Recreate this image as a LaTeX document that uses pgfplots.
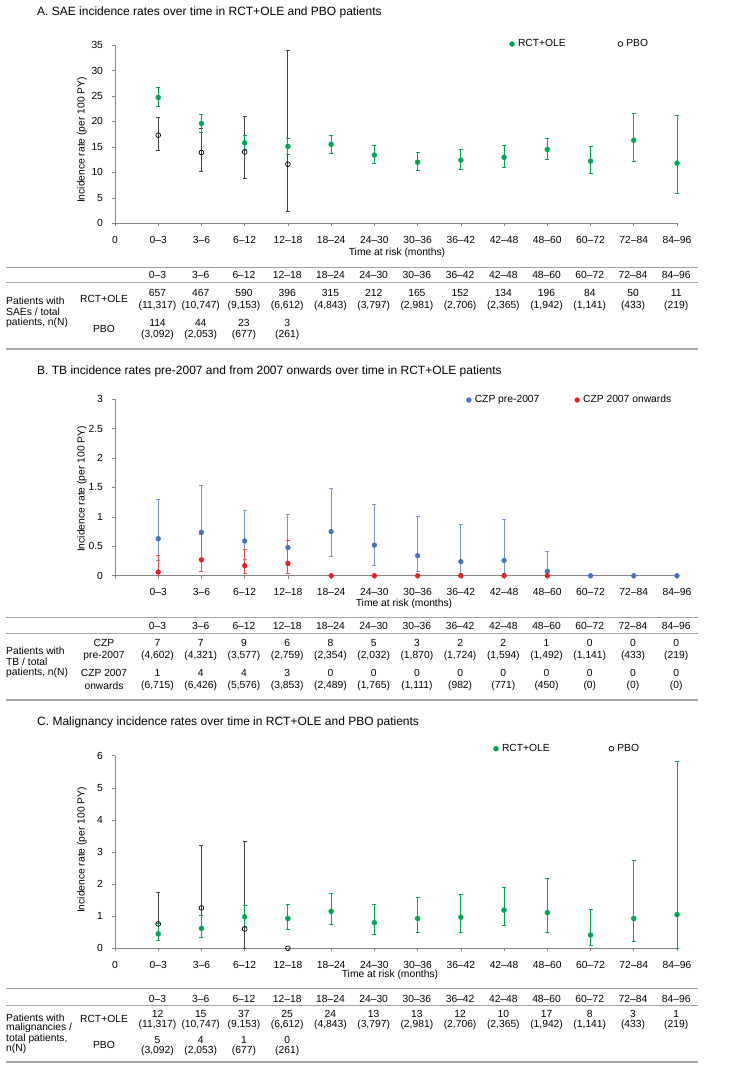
\documentclass[border=0pt]{standalone}
\usepackage{pgfplots}
\pgfplotsset{compat=1.18}
\usepackage{fontspec}
\setmainfont{Liberation Sans}
\definecolor{cgreen}{RGB}{0,166,81}
\definecolor{cblue}{RGB}{68,114,196}
\definecolor{cred}{RGB}{237,28,36}
\definecolor{axgray}{RGB}{134,134,134}
\definecolor{pbo}{RGB}{64,64,64}
\definecolor{tgray}{RGB}{165,165,165}
\newcommand{\fs}{\fontsize{10.3}{12}\selectfont}
\newcommand{\ft}{\fontsize{12}{14}\selectfont}
\newcommand{\trow}[2]{\foreach \v [count=\i] in {#2} {\node[font=\fs, inner sep=0pt] at ({(157.5+43.23*(\i-1))*1pt},{-#1*1pt}) {\v};}}
\newcommand{\prow}[2]{\foreach \v [count=\i] in {#2} {\node[font=\fs, inner sep=0pt] at ({(157.5+43.23*(\i-1))*1pt},{-#1*1pt}) {(\v)};}}
\pgfplotsset{
  panel/.style={
    scale only axis, width=562pt,
    xmin=0, xmax=13, ymin=0,
    axis x line*=bottom, axis y line*=left,
    axis line style={draw=axgray, line width=0.8pt},
    tick style={draw=axgray, line width=0.6pt},
    major tick length=3pt, tick align=outside,
    xtick={0,...,13},
    tick label style={font=\fs, text=black},
    /pgf/number format/assume math mode=true,
    yticklabel style={xshift=-5.5pt},
    xticklabel style={yshift=-6.5pt},
    error bars/y dir=both, error bars/y explicit,
    legend columns=2,
    legend style={draw=none, fill=none, font=\fs, anchor=west, inner sep=0pt, outer sep=0pt,
      nodes={inner sep=0pt},
      /tikz/every odd column/.append style={column sep=3.5pt},
      /tikz/every even column/.append style={column sep=0pt}},
    legend image code/.code={\draw[#1] plot coordinates {(0pt,0pt)};},
    clip=false,
  },
  rct/.style={only marks, mark=*, mark size=2.5pt, color=cgreen, mark options={fill=cgreen, draw=cgreen},
    error bars/error bar style={color=cgreen, draw=cgreen, line width=0.9pt},
    error bars/error mark options={rotate=90, color=cgreen, draw=cgreen, line width=0.9pt, mark size=2pt}},
  gbar/.style={draw=cgreen, line width=0.9pt, mark=-, mark size=2pt, mark options={draw=cgreen, solid}},
  pb/.style={only marks, mark=o, mark size=2.4pt, color=black, mark options={fill=white, draw=black, line width=0.7pt},
    error bars/error bar style={draw=pbo, line width=0.9pt},
    error bars/error mark options={rotate=90, draw=pbo, line width=0.9pt, mark size=2pt}},
  blu/.style={only marks, mark=*, mark size=2.4pt, color=cblue, mark options={fill=cblue, draw=cblue},
    error bars/error bar style={draw=cblue!75, line width=0.9pt},
    error bars/error mark options={rotate=90, draw=cblue!75, line width=0.9pt, mark size=2pt}},
  rd/.style={only marks, mark=*, mark size=2.4pt, color=cred, mark options={fill=cred, draw=cred},
    error bars/error bar style={draw=cred!80, line width=0.9pt},
    error bars/error mark options={rotate=90, draw=cred!80, line width=0.9pt, mark size=2pt}},
}
\begin{document}
\begin{tikzpicture}
\path[use as bounding box] (0pt,0pt) rectangle (751pt,-1073pt);
%================ Panel A
\node[font=\ft, anchor=west, inner sep=0pt] at (37pt,-12.3pt) {A. SAE incidence rates over time in RCT+OLE and PBO patients};
\begin{axis}[panel, at={(115pt,-223.3pt)}, anchor=south west, height=178.3pt, ymax=35,
  ytick={0,5,...,35}, xticklabels={0,0--3,3--6,6--12,12--18,18--24,24--30,30--36,36--42,42--48,48--60,60--72,72--84,84--96},
  legend style={at={(0.702,1.0056)}}]
\addlegendimage{only marks, mark=*, mark size=2.5pt, color=cgreen, mark options={fill=cgreen}}
\addlegendimage{only marks, mark=o, mark size=2.4pt, color=black, mark options={line width=0.7pt}}
\addplot[pb, forget plot] coordinates {
 (1,17.3) += (0,3.5) -= (0,3.0)
 (2,13.9) += (0,4.7) -= (0,3.8)
 (3,14.0) += (0,7.0) -= (0,5.1)
 (4,11.6) += (0,22.3) -= (0,9.2)
};
\addplot[gbar, forget plot] coordinates {(12,12.1) (12,21.5)};
\addplot[gbar, forget plot] coordinates {(13,5.9) (13,21.1)};
\addplot[rct, forget plot] coordinates {
 (1,24.7) += (0,2.0) -= (0,1.8)
 (2,19.6) += (0,1.8) -= (0,1.7)
 (3,15.8) += (0,1.4) -= (0,1.3)
 (4,15.1) += (0,1.6) -= (0,1.5)
 (5,15.5) += (0,1.8) -= (0,1.7)
 (6,13.4) += (0,1.9) -= (0,1.7)
 (7,12.0) += (0,2.0) -= (0,1.7)
 (8,12.4) += (0,2.1) -= (0,1.9)
 (9,12.95) += (0,2.35) -= (0,2.05)
 (10,14.5) += (0,2.2) -= (0,2.0)
 (11,12.2) += (0,2.9) -= (0,2.5)
 (12,16.3) (13,11.8)
};
\legend{\makebox[100pt][l]{RCT+OLE},PBO}
\end{axis}
\node[font=\fs, rotate=90] at (82pt,-140pt) {Incidence rate (per 100 PY)};
\node[font=\fs] at (397pt,-253pt) {Time at risk (months)};
% table A
\draw[tgray, line width=0.9pt] (6pt,-267pt) -- (698pt,-267pt);
\draw[tgray, line width=0.9pt] (6pt,-282.3pt) -- (698pt,-282.3pt);
\draw[tgray, line width=1.6pt] (6pt,-349pt) -- (698pt,-349pt);
\trow{275}{0--3,3--6,6--12,12--18,18--24,24--30,30--36,36--42,42--48,48--60,60--72,72--84,84--96}
\trow{292.5}{657,467,590,396,315,212,165,152,134,196,84,50,11}
\prow{305.5}{11{,}317,10{,}747,9{,}153,6{,}612,4{,}843,3{,}797,2{,}981,2{,}706,2{,}365,1{,}942,1{,}141,433,219}
\trow{323.3}{114,44,23,3}
\prow{335}{3{,}092,2{,}053,677,261}
\node[font=\fs] at (104pt,-299pt) {RCT+OLE};
\node[font=\fs] at (104pt,-329pt) {PBO};
\node[font=\fs, anchor=west, inner sep=0pt] at (6pt,-301pt) {Patients with};
\node[font=\fs, anchor=west, inner sep=0pt] at (6pt,-312pt) {SAEs / total};
\node[font=\fs, anchor=west, inner sep=0pt] at (6pt,-322.5pt) {patients, n(N)};
%================ Panel B
\node[font=\ft, anchor=west, inner sep=0pt] at (37pt,-371pt) {B. TB incidence rates pre-2007 and from 2007 onwards over time in RCT+OLE patients};
\begin{axis}[panel, at={(115pt,-575.7pt)}, anchor=south west, height=176.4pt, ymax=3,
  ytick={0,0.5,...,3}, xticklabels={,0--3,3--6,6--12,12--18,18--24,24--30,30--36,36--42,42--48,48--60,60--72,72--84,84--96},
  legend style={at={(0.6254,0.996)}}]
\addlegendimage{only marks, mark=*, mark size=2.4pt, color=cblue, mark options={fill=cblue}}
\addlegendimage{only marks, mark=*, mark size=2.4pt, color=cred, mark options={fill=cred}}
\addplot[blu, forget plot] coordinates {
 (1,0.63) += (0,0.67) -= (0,0.37)
 (2,0.74) += (0,0.79) -= (0,0.44)
 (3,0.59) += (0,0.52) -= (0,0.32)
 (4,0.48) += (0,0.57) -= (0,0.30)
 (5,0.75) += (0,0.73) -= (0,0.43)
 (6,0.52) += (0,0.70) -= (0,0.35)
 (7,0.34) += (0,0.66) -= (0,0.27)
 (8,0.24) += (0,0.64) -= (0,0.21)
 (9,0.26) += (0,0.69) -= (0,0.23)
 (10,0.075) += (0,0.335) -= (0,0.073)
 (11,0) (12,0) (13,0)
};
\addplot[rd, forget plot] coordinates {
 (1,0.063) += (0,0.287) -= (0,0.061)
 (2,0.27) += (0,0.43) -= (0,0.196)
 (3,0.17) += (0,0.28) -= (0,0.124)
 (4,0.21) += (0,0.39) -= (0,0.167)
 (5,0) (6,0) (7,0) (8,0) (9,0) (10,0)
};
\legend{\makebox[100pt][l]{CZP pre-2007},CZP 2007 onwards}
\end{axis}
\node[font=\fs, rotate=90] at (82pt,-489pt) {Incidence rate (per 100 PY)};
\node[font=\fs] at (404pt,-603.7pt) {Time at risk (months)};
% table B
\draw[tgray, line width=0.9pt] (6pt,-617.7pt) -- (698pt,-617.7pt);
\draw[tgray, line width=0.9pt] (6pt,-633pt) -- (698pt,-633pt);
\draw[tgray, line width=1.6pt] (6pt,-700pt) -- (698pt,-700pt);
\trow{626}{0--3,3--6,6--12,12--18,18--24,24--30,30--36,36--42,42--48,48--60,60--72,72--84,84--96}
\trow{643}{7,7,9,6,8,5,3,2,2,1,0,0,0}
\prow{656}{4{,}602,4{,}321,3{,}577,2{,}759,2{,}354,2{,}032,1{,}870,1{,}724,1{,}594,1{,}492,1{,}141,433,219}
\trow{673.3}{1,4,4,3,0,0,0,0,0,0,0,0,0}
\prow{685.5}{6{,}715,6{,}426,5{,}576,3{,}853,2{,}489,1{,}765,1{,}111,982,771,450,0,0,0}
\node[font=\fs] at (104pt,-643pt) {CZP};
\node[font=\fs] at (104pt,-656pt) {pre-2007};
\node[font=\fs] at (104pt,-673.3pt) {CZP 2007};
\node[font=\fs] at (104pt,-685.5pt) {onwards};
\node[font=\fs, anchor=west, inner sep=0pt] at (6pt,-650.7pt) {Patients with};
\node[font=\fs, anchor=west, inner sep=0pt] at (6pt,-662pt) {TB / total};
\node[font=\fs, anchor=west, inner sep=0pt] at (6pt,-672.5pt) {patients, n(N)};
%================ Panel C
\node[font=\ft, anchor=west, inner sep=0pt] at (37pt,-722.3pt) {C. Malignancy incidence rates over time in RCT+OLE and PBO patients};
\begin{axis}[panel, at={(115pt,-948.3pt)}, anchor=south west, height=192.6pt, ymax=6,
  ytick={0,1,...,6}, xticklabels={0,0--3,3--6,6--12,12--18,18--24,24--30,30--36,36--42,42--48,48--60,60--72,72--84,84--96},
  legend style={at={(0.6735,1.0363)}}]
\addlegendimage{only marks, mark=*, mark size=2.5pt, color=cgreen, mark options={fill=cgreen}}
\addlegendimage{only marks, mark=o, mark size=2.4pt, color=black, mark options={line width=0.7pt}}
\addplot[pb, forget plot] coordinates {
 (1,0.76) += (0,0.99) -= (0,0.51)
 (2,1.26) += (0,1.93) -= (0,0.91)
 (3,0.60) += (0,2.73) -= (0,0.60)
 (4,0)
};
\addplot[gbar, forget plot] coordinates {(12,0.20) (12,2.75)};
\addplot[gbar, forget plot] coordinates {(13,0.0) (13,5.82)};
\addplot[rct, forget plot] coordinates {
 (1,0.45) += (0,0.34) -= (0,0.22)
 (2,0.62) += (0,0.41) -= (0,0.27)
 (3,0.98) += (0,0.36) -= (0,0.29)
 (4,0.93) += (0,0.44) -= (0,0.33)
 (5,1.15) += (0,0.56) -= (0,0.41)
 (6,0.80) += (0,0.57) -= (0,0.37)
 (7,0.93) += (0,0.66) -= (0,0.43)
 (8,0.97) += (0,0.72) -= (0,0.47)
 (9,1.19) += (0,0.72) -= (0,0.49)
 (10,1.11) += (0,1.08) -= (0,0.62)
 (11,0.415) += (0,0.795) -= (0,0.325)
 (12,0.93) (13,1.05)
};
\legend{\makebox[107pt][l]{RCT+OLE},PBO}
\end{axis}
\node[font=\fs, rotate=90] at (82pt,-850pt) {Incidence rate (per 100 PY)};
\node[font=\fs] at (390pt,-974.7pt) {Time at risk (months)};
% table C
\draw[tgray, line width=0.9pt] (6pt,-988.3pt) -- (698pt,-988.3pt);
\draw[tgray, line width=0.9pt] (6pt,-1005.7pt) -- (698pt,-1005.7pt);
\draw[tgray, line width=1.6pt] (6pt,-1061.7pt) -- (698pt,-1061.7pt);
\trow{999.3}{0--3,3--6,6--12,12--18,18--24,24--30,30--36,36--42,42--48,48--60,60--72,72--84,84--96}
\trow{1014}{12,15,37,25,24,13,13,12,10,17,8,3,1}
\prow{1025}{11{,}317,10{,}747,9{,}153,6{,}612,4{,}843,3{,}797,2{,}981,2{,}706,2{,}365,1{,}942,1{,}141,433,219}
\trow{1039.5}{5,4,1,0}
\prow{1050.5}{3{,}092,2{,}053,677,261}
\node[font=\fs] at (104pt,-1019.3pt) {RCT+OLE};
\node[font=\fs] at (104pt,-1045pt) {PBO};
\node[font=\fs, anchor=west, inner sep=0pt] at (6pt,-1018pt) {Patients with};
\node[font=\fs, anchor=west, inner sep=0pt] at (6pt,-1028.3pt) {malignancies /};
\node[font=\fs, anchor=west, inner sep=0pt] at (6pt,-1038.6pt) {total patients,};
\node[font=\fs, anchor=west, inner sep=0pt] at (6pt,-1049pt) {n(N)};
\end{tikzpicture}
\end{document}
